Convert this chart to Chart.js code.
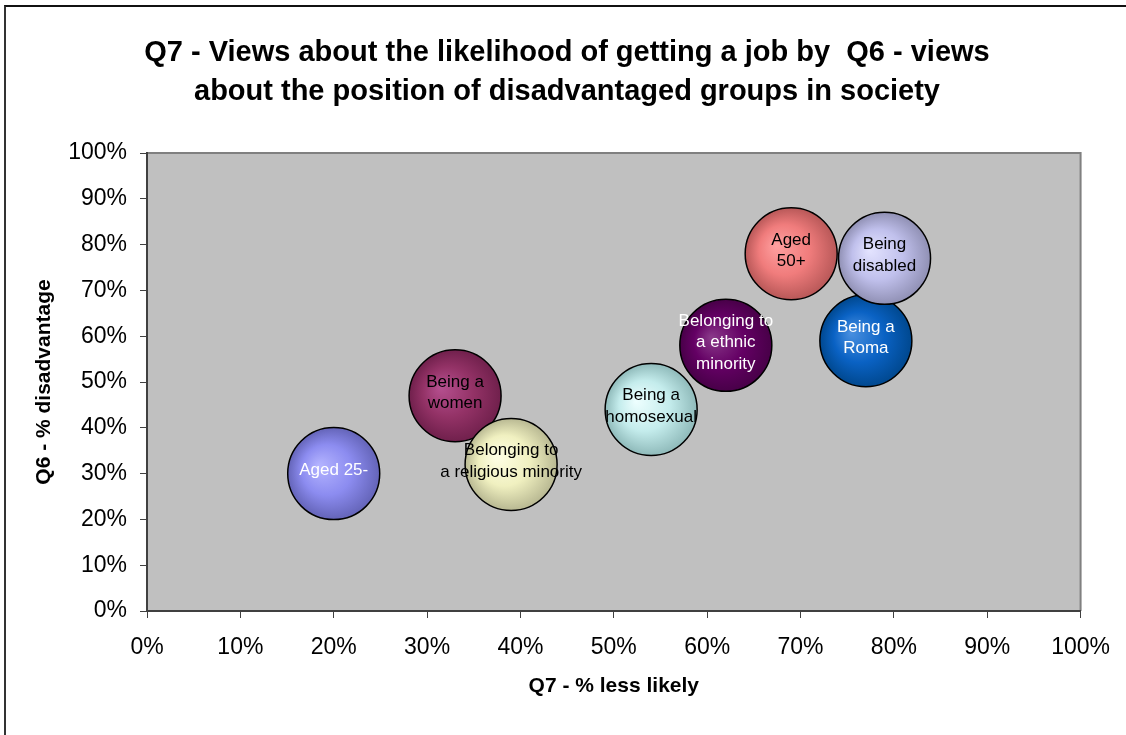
<!DOCTYPE html>
<html>
<head>
<meta charset="utf-8">
<script src="https://cdn.jsdelivr.net/npm/chart.js@4.4.1/dist/chart.umd.min.js"></script>
<style>
  html, body { margin: 0; padding: 0; background: #fff; }
  #wrap { position: relative; width: 1126px; height: 735px; overflow: hidden; }
  #c { position: absolute; left: 0; top: 0; }
  #frame { position: absolute; left: 4px; top: 5px; width: 1200px; height: 800px;
           border-left: 2px solid #333; border-top: 2px solid #111; pointer-events: none; }
</style>
</head>
<body>
<div id="wrap">
  <canvas id="c" width="1126" height="735"></canvas>
  <div id="frame"></div>
</div>
<script>
// Groups, each label split the way it wraps inside its bubble
const groups = [
  ['Aged 25-'],
  ['Being a', 'women'],
  ['Belonging to', 'a religious minority'],
  ['Being a', 'homosexual'],
  ['Belonging to', 'a ethnic', 'minority'],
  ['Aged', '50+'],
  ['Being a', 'Roma'],
  ['Being', 'disabled']
];
// Q7 - % less likely to get a job
const lessLikely   = [20, 33, 39, 54, 62, 69, 77, 79];
// Q6 - % seeing the group as disadvantaged
const disadvantage = [30, 47, 32, 44, 58, 78, 59, 77];
// Bubble sizes (all equal)
const bubbleSize   = [1, 1, 1, 1, 1, 1, 1, 1];
// Axis ticks (percent)
const xTicks = [0, 10, 20, 30, 40, 50, 60, 70, 80, 90, 100];
const yTicks = [0, 10, 20, 30, 40, 50, 60, 70, 80, 90, 100];

// Shaded sphere colours: highlight, body, rim; and label colour
const palette = [
  { light: '#b4b4ff', base: '#8c8cf0', dark: '#6464b8', text: '#ffffff' },
  { light: '#b65090', base: '#933266', dark: '#70204c', text: '#000000' },
  { light: '#ffffe6', base: '#f0f0c0', dark: '#b8b892', text: '#000000' },
  { light: '#eeffff', base: '#c4ecec', dark: '#8fbaba', text: '#000000' },
  { light: '#8a3a8a', base: '#640064', dark: '#480048', text: '#ffffff' },
  { light: '#ffa0a0', base: '#f07c7c', dark: '#b85858', text: '#000000' },
  { light: '#4a90e0', base: '#0a62c4', dark: '#00488f', text: '#ffffff' },
  { light: '#e4e4ff', base: '#c0c0ec', dark: '#9090b4', text: '#000000' }
];

const MAX_RADIUS = 46;
const maxSize = Math.max(...bubbleSize);
const radiusOf = i => MAX_RADIUS * Math.sqrt(bubbleSize[i] / maxSize);
const FONT = "'Liberation Sans', Arial, sans-serif";

// Bubbles may spill over the plot edge, so they reserve no extra margin
Chart.BubbleController.prototype.getMaxOverflow = function () { return 0; };

function sphereFill(i) {
  return (ctx) => {
    const st = palette[i];
    const chart = ctx.chart;
    if (ctx.type !== 'data' || !chart.chartArea || !chart.scales.x) return st.base;
    const px = chart.scales.x.getPixelForValue(lessLikely[i]);
    const py = chart.scales.y.getPixelForValue(disadvantage[i]);
    const r = radiusOf(i);
    const g = chart.ctx.createRadialGradient(px - 0.33 * r, py - 0.18 * r, 0, px, py, r);
    g.addColorStop(0, st.light);
    g.addColorStop(0.55, st.base);
    g.addColorStop(1, st.dark);
    return g;
  };
}

const datasets = groups.map((lines, i) => ({
  label: lines.join(' '),
  data: [{ x: lessLikely[i], y: disadvantage[i] }],
  backgroundColor: sphereFill(i),
  borderColor: '#000000',
  borderWidth: 1.5,
  radius: () => radiusOf(i),
  order: -i
}));

// Grey plot area with a light frame on its top and right edges
const plotArea = {
  id: 'plotArea',
  beforeDraw(chart) {
    const { ctx, chartArea: a } = chart;
    ctx.save();
    ctx.fillStyle = '#c0c0c0';
    ctx.fillRect(a.left, a.top, a.right - a.left, a.bottom - a.top);
    ctx.strokeStyle = '#808080';
    ctx.lineWidth = 2;
    ctx.beginPath();
    ctx.moveTo(a.left, a.top);
    ctx.lineTo(a.right, a.top);
    ctx.lineTo(a.right, a.bottom);
    ctx.stroke();
    ctx.restore();
  }
};

// Group names written on their bubbles
const bubbleLabels = {
  id: 'bubbleLabels',
  afterDatasetsDraw(chart) {
    const ctx = chart.ctx;
    ctx.save();
    ctx.font = '17px ' + FONT;
    ctx.textAlign = 'center';
    ctx.textBaseline = 'middle';
    const lh = 21.5;
    chart.data.datasets.forEach((ds, i) => {
      const el = chart.getDatasetMeta(i).data[0];
      if (!el) return;
      const lines = groups[i];
      const y0 = el.y - 3 - (lines.length - 1) * lh / 2;
      ctx.fillStyle = palette[i].text;
      lines.forEach((t, k) => ctx.fillText(t, el.x, y0 + k * lh));
    });
    ctx.restore();
  }
};

const tickStyle = { family: FONT, size: 23 };

new Chart(document.getElementById('c'), {
  type: 'bubble',
  data: { datasets },
  plugins: [plotArea, bubbleLabels],
  options: {
    responsive: false,
    devicePixelRatio: 1,
    animation: false,
    events: [],
    layout: { padding: { left: 8, right: 0, top: 0, bottom: 0 } },
    plugins: {
      legend: { display: false },
      tooltip: { enabled: false },
      title: {
        display: true,
        text: ['Q7 - Views about the likelihood of getting a job by  Q6 - views',
               'about the position of disadvantaged groups in society'],
        font: { family: FONT, size: 29, weight: 'bold', lineHeight: 1.345 },
        color: '#000000',
        padding: { top: 33, bottom: 42 }
      }
    },
    scales: {
      x: {
        type: 'linear',
        position: 'bottom',
        min: 0, max: 100,
        afterBuildTicks: s => { s.ticks = xTicks.map(v => ({ value: v })); },
        afterFit: s => { s.height = 124; },
        ticks: { callback: v => v + '%', font: tickStyle, color: '#000000', padding: 16, maxRotation: 0 },
        grid: { drawOnChartArea: false, drawTicks: true, tickLength: 7, color: '#404040', lineWidth: 1 },
        border: { display: true, color: '#404040', width: 2 },
        title: { display: true, text: 'Q7 - % less likely',
                 font: { family: FONT, size: 21, weight: 'bold' }, color: '#000000',
                 padding: { top: 0, bottom: 36 } }
      },
      y: {
        type: 'linear',
        position: 'left',
        min: 0, max: 100,
        afterBuildTicks: s => { s.ticks = yTicks.map(v => ({ value: v })); },
        afterFit: s => { s.width = 139; },
        ticks: { callback: v => v + '%', font: tickStyle, color: '#000000', padding: 13 },
        grid: { drawOnChartArea: false, drawTicks: true, tickLength: 7, color: '#404040', lineWidth: 1 },
        border: { display: true, color: '#404040', width: 2 },
        title: { display: true, text: 'Q6 - % disadvantage',
                 font: { family: FONT, size: 21, weight: 'bold' }, color: '#000000',
                 padding: { top: 24, bottom: 0 } }
      },
      yRight: {
        type: 'linear',
        position: 'right',
        display: true,
        afterFit: s => { s.width = 45; },
        ticks: { display: false },
        grid: { display: false, drawTicks: false },
        border: { display: false },
        title: { display: false }
      }
    }
  }
});
</script>
</body>
</html>
